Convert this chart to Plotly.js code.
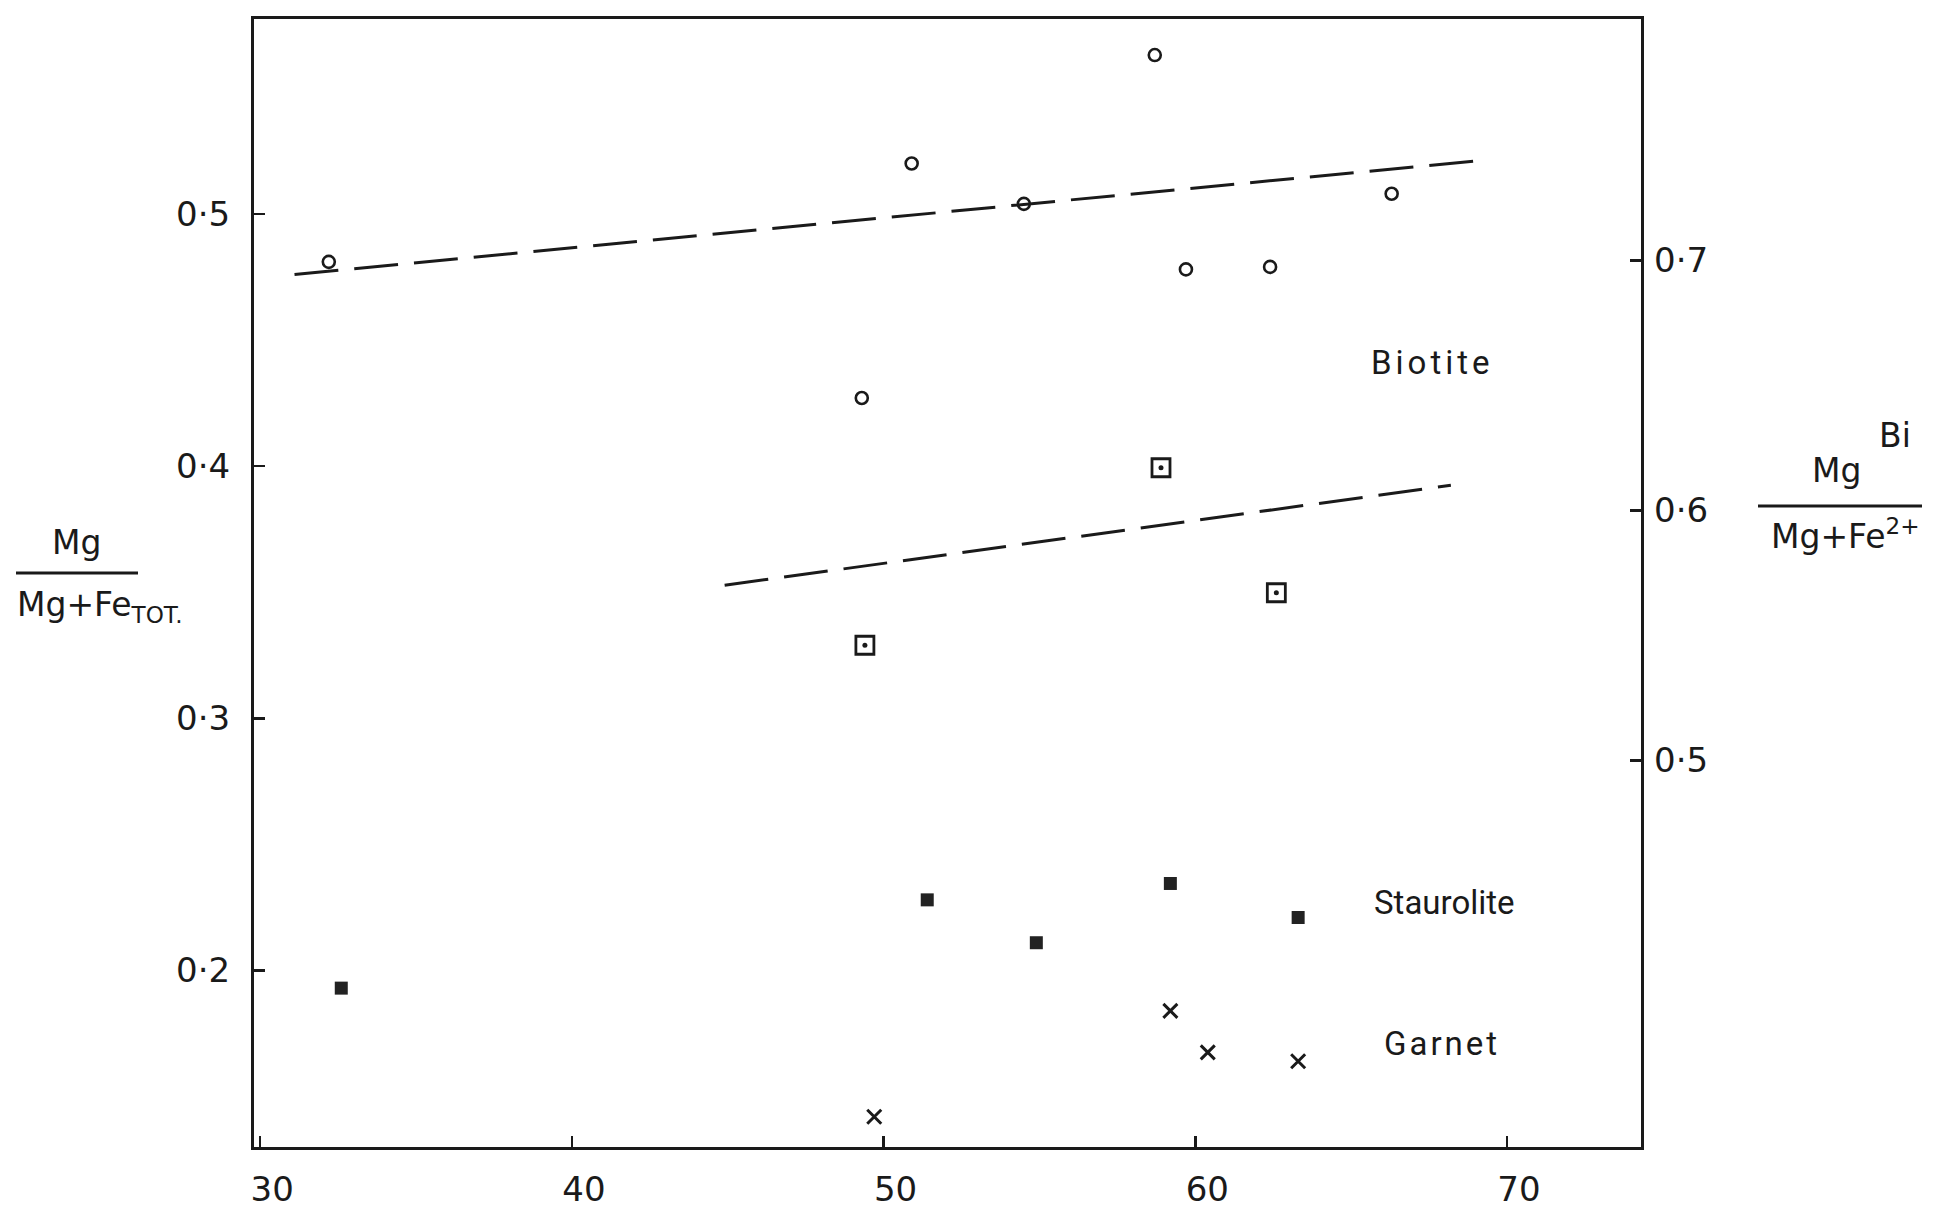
<!DOCTYPE html>
<html>
<head>
<meta charset="utf-8">
<script src="https://cdn.plot.ly/plotly-3.0.1.min.js"></script>
<style>
  html, body { margin: 0; padding: 0; background: #ffffff; }
  #chart { width: 1951px; height: 1211px; }
</style>
</head>
<body>
<div id="chart"></div>
<script>
// ---- Data ----
// Biotite, Mg/(Mg+Fe_tot) - left axis (open circles)
const biotiteX = [32.2, 50.9, 54.5, 58.7, 66.3, 59.7, 62.4, 49.3];
const biotiteY = [0.481, 0.520, 0.504, 0.563, 0.508, 0.478, 0.479, 0.427];
// Biotite, Mg/(Mg+Fe2+) - right axis (open squares with dot)
const biotiteFe2X = [58.9, 62.6, 49.4];
const biotiteFe2Y = [0.617, 0.567, 0.546];
// Staurolite - left axis (filled squares)
const stauroliteX = [32.6, 51.4, 54.9, 59.2, 63.3];
const stauroliteY = [0.193, 0.228, 0.211, 0.2345, 0.221];
// Garnet - left axis (crosses)
const garnetX = [59.2, 60.4, 63.3, 49.7];
const garnetY = [0.184, 0.1675, 0.164, 0.142];
// Trend lines
const trendTotX = [31.1, 69.0];
const trendTotY = [0.476, 0.521];
const trendFe2X = [44.9, 68.2];
const trendFe2Y = [0.570, 0.610];
// Tick labels
const xTickVals = [30, 40, 50, 60, 70];
const xTickText = ['30', '40', '50', '60', '70'];
const yTickVals = [0.2, 0.3, 0.4, 0.5];
const yTickText = ['0·2', '0·3', '0·4', '0·5'];
const y2TickVals = [0.5, 0.6, 0.7];
const y2TickText = ['0·5', '0·6', '0·7'];
// Mineral labels
const labelText = ['Biotite', 'Staurolite', 'Garnet'];
const labelX = [67.6, 68.0, 67.9];
const labelY = [0.441, 0.227, 0.171];
const labelSpacing = [4, 0, 3];

// ---- Layout geometry ----
const W = 1951, H = 1211;
const L = 254, R = 1641, T = 19, B = 1147;
const px2paperX = px => (px - L) / (R - L);
const py2paperY = py => (B - py) / (B - T);

const ink = '#1a1a1a';
const FONT = 'DejaVu Sans, Liberation Sans, sans-serif';
const LABELFONT = 'Roboto, DejaVu Sans, sans-serif';

const traces = [
  {
    x: trendTotX, y: trendTotY, mode: 'lines', yaxis: 'y',
    line: { color: ink, width: 3, dash: '44px,16px' }, showlegend: false, hoverinfo: 'skip'
  },
  {
    x: trendFe2X, y: trendFe2Y, mode: 'lines', yaxis: 'y2',
    line: { color: ink, width: 3, dash: '44px,16px' }, showlegend: false, hoverinfo: 'skip'
  },
  {
    x: biotiteX, y: biotiteY, mode: 'markers', yaxis: 'y', name: 'Biotite',
    marker: { symbol: 'circle-open', size: 12, color: ink, line: { width: 2.6, color: ink } }
  },
  {
    x: biotiteFe2X, y: biotiteFe2Y, mode: 'markers', yaxis: 'y2', name: 'Biotite (Fe2+)',
    marker: { symbol: 'square-open', size: 18, color: ink, line: { width: 2.8, color: ink } }
  },
  {
    x: biotiteFe2X, y: biotiteFe2Y, mode: 'markers', yaxis: 'y2', name: 'Biotite (Fe2+) centre',
    marker: { symbol: 'circle', size: 5, color: ink, line: { width: 0 } }
  },
  {
    x: stauroliteX, y: stauroliteY, mode: 'markers', yaxis: 'y', name: 'Staurolite',
    marker: { symbol: 'square', size: 13, color: '#222', line: { width: 0 } }
  },
  {
    x: garnetX, y: garnetY, mode: 'markers', yaxis: 'y', name: 'Garnet',
    marker: { symbol: 'x-thin-open', size: 14, color: ink, line: { width: 3, color: ink } }
  }
];

const annotations = labelText.map((t, i) => ({
  text: labelSpacing[i] ? '<span style="letter-spacing:' + labelSpacing[i] + 'px">' + t + '</span>' : t,
  x: labelX[i], y: labelY[i], xref: 'x', yref: 'y',
  showarrow: false, xanchor: 'center', yanchor: 'middle',
  font: { family: LABELFONT, size: 33, color: ink }
}));

// Axis titles (stacked fractions)
const titleFont = { family: FONT, size: 33, color: ink };
annotations.push(
  { text: 'Mg', xref: 'paper', yref: 'paper', x: px2paperX(76), y: py2paperY(543),
    showarrow: false, xanchor: 'center', yanchor: 'middle', font: titleFont },
  { text: 'Mg+Fe<sub>TOT.</sub>', xref: 'paper', yref: 'paper', x: px2paperX(100), y: py2paperY(607),
    showarrow: false, xanchor: 'center', yanchor: 'middle', font: titleFont },
  { text: 'Mg', xref: 'paper', yref: 'paper', x: px2paperX(1836), y: py2paperY(471),
    showarrow: false, xanchor: 'center', yanchor: 'middle', font: titleFont },
  { text: 'Bi', xref: 'paper', yref: 'paper', x: px2paperX(1895), y: py2paperY(435),
    showarrow: false, xanchor: 'center', yanchor: 'middle', font: titleFont },
  { text: 'Mg+Fe<sup>2+</sup>', xref: 'paper', yref: 'paper', x: px2paperX(1845), y: py2paperY(534),
    showarrow: false, xanchor: 'center', yanchor: 'middle', font: titleFont }
);

const shapes = [
  { type: 'line', xref: 'paper', yref: 'paper', x0: px2paperX(16), x1: px2paperX(138),
    y0: py2paperY(573), y1: py2paperY(573), line: { color: ink, width: 3 } },
  { type: 'line', xref: 'paper', yref: 'paper', x0: px2paperX(1758), x1: px2paperX(1922),
    y0: py2paperY(506), y1: py2paperY(506), line: { color: ink, width: 3 } }
];

const tickFont = { family: FONT, size: 34, color: ink };

const layout = {
  width: W, height: H,
  margin: { l: L, r: W - R, t: T, b: H - B },
  paper_bgcolor: '#ffffff', plot_bgcolor: '#ffffff',
  showlegend: false,
  font: { family: FONT, size: 30, color: ink },
  xaxis: {
    range: [29.8, 74.3], tickvals: xTickVals, ticktext: xTickText,
    ticks: 'inside', ticklen: 11, tickwidth: 2.5, tickcolor: ink,
    showline: true, linecolor: ink, linewidth: 3, mirror: true,
    showgrid: false, zeroline: false,
    tickfont: tickFont,
    ticklabelstandoff: 10, ticklabelshift: 12
  },
  yaxis: {
    range: [0.130, 0.5773], tickvals: yTickVals, ticktext: yTickText,
    ticks: 'inside', ticklen: 11, tickwidth: 2.5, tickcolor: ink,
    showline: true, linecolor: ink, linewidth: 3, mirror: true,
    showgrid: false, zeroline: false,
    tickfont: tickFont,
    ticklabelstandoff: 14
  },
  yaxis2: {
    overlaying: 'y', side: 'right',
    range: [0.3453, 0.7965], tickvals: y2TickVals, ticktext: y2TickText,
    ticks: 'inside', ticklen: 11, tickwidth: 2.5, tickcolor: ink,
    showline: false, showgrid: false, zeroline: false,
    tickfont: tickFont,
    ticklabelstandoff: 12
  },
  annotations: annotations,
  shapes: shapes
};

Plotly.newPlot('chart', traces, layout, { staticPlot: true, displayModeBar: false });
</script>
</body>
</html>
